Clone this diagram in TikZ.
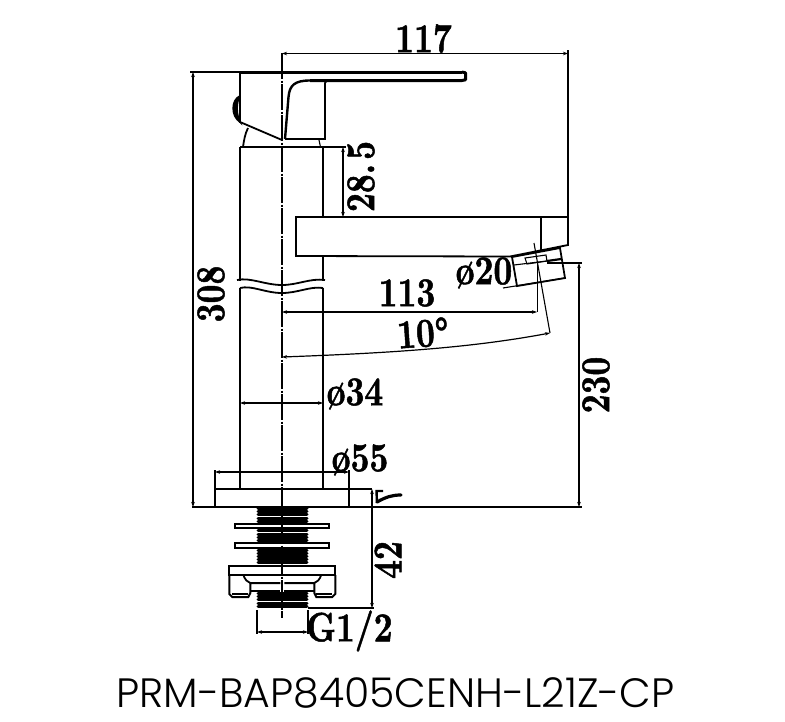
\documentclass[tikz,border=0pt]{standalone}
\usepackage{fontspec}
\newfontfamily\titlefont{Poppins Light}
\newfontfamily\dimfont[UprightFont=*-bold,Extension=.otf,FakeStretch=.8,FakeBold=1.2]{lmroman10}
\usepackage{tikz}
\usetikzlibrary{
	arrows.meta,
	positioning
}
\newcommand{\dimtxt}[1]{{\dimfont\fontsize{41}{41}\selectfont #1}}
\tikzset{
	outline/.style={line width=1.8pt,line join=miter},
	heavy/.style={line width=3pt,line join=round},
	extline/.style={line width=1.1pt},
	dimline/.style={line width=1.2pt,{Stealth[length=5pt,width=3.5pt]}-{Stealth[length=5pt,width=3.5pt]}},
	centreline/.style={line width=1.8pt,dash pattern=on 26pt off 1.5pt on 2pt off 1.5pt},
	threadline/.style={line width=3pt,line cap=round},
	dimlabel/.style={inner sep=0pt,anchor=center}
}
\begin{document}
\begin{tikzpicture}[x=1pt,y=-1pt]
	\useasboundingbox[fill=white] (0,0) rectangle (785,721);

	\foreach \ty in {508.5,511.7,...,565}
		\draw[threadline] (258,\ty) -- (307,\ty);
	\foreach \ty in {593.5,596.7,...,609}
		\draw[threadline] (258,\ty) -- (307,\ty);

	\draw[outline,fill=white] (235,524) rectangle (329,528);
	\draw[outline,fill=white] (235,543) rectangle (329,548);

	\draw[outline] (240,72) -- (240,122) -- (282,140);
	\draw[outline,fill=black] (240,96) .. controls (231,100) and (231,116) .. (240,122) .. controls (236,114) and (236,102) .. (240,96);
	\draw[outline] (248,128) .. controls (245,134) and (244,140) .. (243,147);
	\draw[line width=3pt] (240,72) -- (462,72);
	\draw[heavy] (462,72) -- (465.5,72.8) -- (465.5,79.8) -- (462,80.5) -- (310,80.5);
	\draw[line width=2.4pt] (285,139) -- (288.5,97) .. controls (289.5,85) and (295,80.5) .. (310,80.5);
	\draw[outline] (285,139) -- (325,139) -- (325,83) -- (327,80);
	\draw[extline] (319,140) -- (320.5,147);

	\draw[outline] (240,147) -- (323,147);
	\draw[outline] (240,147) -- (240,281);
	\draw[outline] (323,147) -- (323,217);
	\draw[outline] (323,256) -- (323,281);
	\draw[outline] (240,288) -- (240,489);
	\draw[outline] (323,288) -- (323,489);
	\draw[outline] (237,280) .. controls (250,277) and (265,285) .. (282,285) .. controls (298,285) and (310,278) .. (325,280);
	\draw[outline] (240,288) .. controls (252,285) and (265,293) .. (282,293) .. controls (298,293) and (310,286) .. (323,288);

	\draw[outline] (510,256.5) -- (296,256) -- (296,217) -- (568,217) -- (568,245) -- cycle;
	\draw[extline] (541,217) -- (541,250);

	\draw[outline] (512,257) -- (560,248) -- (565,278) -- (517,286) -- cycle;
	\draw[extline] (514,265) -- (547,261);
	\draw[line width=2.2pt] (547,261) -- (561,259);
	\draw[extline] (525,258) -- (546,255) -- (547,261) -- (527,264) -- cycle;
	\draw[extline] (503,288) -- (565,278);

	\draw[outline] (215,489) rectangle (349,507);
	\draw[outline] (215,489) -- (215,470);
	\draw[outline] (349,489) -- (349,470);
	\draw[extline] (349,489) -- (372,489);
	\draw[line width=1.8pt] (192,507) -- (582,507);

	\draw[outline,fill=white] (229,566) rectangle (335,575);
	\foreach \s in {1,-1}{
		\begin{scope}[xshift=282.3pt,xscale=\s]
			\draw[line width=2pt] (-53,575) -- (-53,594) -- (-50,597) -- (-34,597) -- (-32,593) -- (-32,583) -- (-2,583);
			\draw[outline] (-39,575) .. controls (-37,580) and (-35,582) .. (-32,583);
			\draw[line width=2pt] (-32,591) -- (-2,591);
			\draw[extline] (-50,594) -- (-34,594);
			\draw[line width=2pt] (-53,575) -- (-2,575);
		\end{scope}
	}

	\draw[extline] (257,610) -- (257,634);
	\draw[extline] (308,610) -- (308,634);
	\draw[extline] (308,608) -- (374,608);

	\draw[centreline] (282.3,53) -- (282.3,618);

	\draw[dimline] (282,53.5) -- (568,53.5);
	\draw[extline] (568,50) -- (568,217);
	\draw[dimline] (193,72) -- (193,507);
	\draw[extline] (190,72) -- (240,72);
	\draw[extline] (323,147) -- (346,147);
	\draw[dimline] (343,147) -- (343,217);
	\draw[dimline] (282,312) -- (537,312);
	\draw[extline] (537.5,263) -- (537.5,312);
	\draw[extline] (534,243) -- (550,333);
	\draw[dimline] (282,357) .. controls (390,353) and (470,348) .. (550,333);
	\draw[dimline] (240,403) -- (323,403);
	\draw[dimline] (215,472) -- (349,472);
	\draw[dimline] (372,489) -- (372,608);
	\draw[extline] (547,263) -- (582,263);
	\draw[dimline] (579,263) -- (579,507);
	\draw[dimline] (257,632) -- (308,632);

	\draw[line width=2.4pt] (383,491) -- (376.5,491) -- (377,503);
	\draw[line width=3.2pt,line cap=round] (377,502) .. controls (386,497) and (392,495) .. (401,495);

	\node[dimlabel] (w117) at (423.5,38.5) {\dimtxt{117}};
	\node[dimlabel,rotate=90] (h285) at (361,176.5) {\dimtxt{28.\kern4pt 5}};
	\node[dimlabel,rotate=90] (h308) at (211,294) {\dimtxt{308}};
	\node[dimlabel] (d20) at (484,273) {\dimtxt{ø20}};
	\node[dimlabel] (w113) at (407,293) {\dimtxt{113}};
	\node[dimlabel,rotate=4] (a10) at (423,333) {\dimtxt{10°}};
	\node[dimlabel] (d34) at (355,394) {\dimtxt{ø34}};
	\node[dimlabel] (d55) at (360,460) {\dimtxt{ø55}};
	\node[dimlabel,rotate=90] (h42) at (388,560) {\dimtxt{42}};
	\node[dimlabel] (g12) at (349.5,631) {\dimtxt{G1/2}};
	\node[dimlabel,rotate=90] (h230) at (596,385) {\dimtxt{230}};
	\node[inner sep=0pt] (model) at (395.5,693) {\titlefont\fontsize{41}{41}\selectfont PRM-BAP8405CENH-L21Z-CP};
\end{tikzpicture}
\end{document}
